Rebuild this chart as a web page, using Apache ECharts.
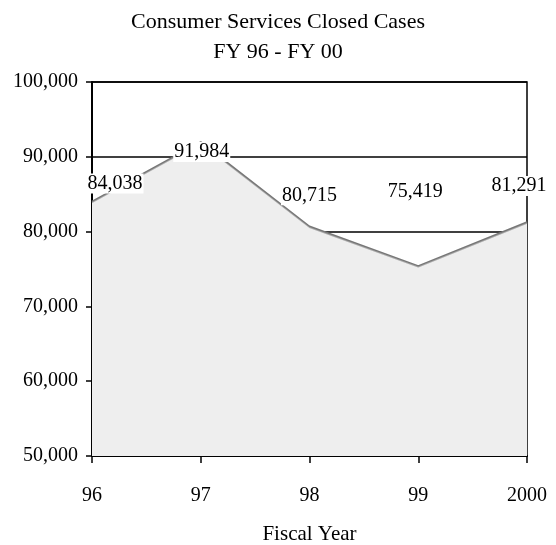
<!DOCTYPE html>
<html>
<head>
<meta charset="utf-8">
<script src="https://cdn.jsdelivr.net/npm/echarts@6/dist/echarts.min.js"></script>
<style>
  html, body { margin: 0; padding: 0; background: #fff; }
  #chart { width: 556px; height: 545px; }
</style>
</head>
<body>
<div id="chart"></div>
<script>
// ---- data ----
const fiscalYears = ['96', '97', '98', '99', '2000'];
const closedCases = [84038, 91984, 80715, 75419, 81291];
const titleLines = ['Consumer Services Closed Cases', 'FY 96 - FY 00'];
const xAxisTitle = 'Fiscal Year';
const yMin = 50000, yMax = 100000, yStep = 10000;

// ---- presentation ----
const FONT = "'Liberation Serif', 'Times New Roman', serif";
const labelShifts = [[23, -18], [1, 10], [0, -31], [-3, -74], [-8, -36]];

const chart = echarts.init(document.getElementById('chart'), null, { renderer: 'canvas' });
const fmt = v => Number(v).toLocaleString('en-US');

chart.setOption({
  backgroundColor: '#ffffff',
  animation: false,
  title: {
    text: titleLines.join('\n'),
    left: 'center',
    top: 2,
    textStyle: { fontFamily: FONT, fontSize: 22, fontWeight: 'normal', color: '#000', lineHeight: 30 }
  },
  grid: {
    left: 92, right: 29, top: 82, bottom: 89,
    outerBoundsMode: 'none',
    containLabel: false,
    show: true, borderColor: '#000', borderWidth: 1.5, backgroundColor: 'transparent'
  },
  xAxis: {
    type: 'category',
    data: fiscalYears,
    boundaryGap: false,
    name: xAxisTitle,
    nameLocation: 'middle',
    nameGap: 68,
    nameTextStyle: { fontFamily: FONT, fontSize: 21, color: '#000' },
    axisLine: { lineStyle: { color: '#000', width: 2 } },
    axisTick: { show: true, length: 7, inside: false, alignWithLabel: true, lineStyle: { color: '#000', width: 1.5 } },
    axisLabel: { fontFamily: FONT, fontSize: 20, color: '#000', margin: 30 },
    splitLine: { show: false }
  },
  yAxis: {
    type: 'value',
    min: yMin, max: yMax, interval: yStep,
    axisLine: { show: true, lineStyle: { color: '#000', width: 2 } },
    axisTick: { show: true, length: 6, lineStyle: { color: '#000', width: 1.5 } },
    axisLabel: { fontFamily: FONT, fontSize: 20, color: '#000', margin: 14, formatter: fmt },
    splitLine: { show: true, lineStyle: { color: '#000', width: 1.5 } }
  },
  series: [{
    type: 'line',
    data: closedCases.map((v, i) => ({
      value: v,
      label: { offset: labelShifts[i] }
    })),
    symbol: 'circle',
    symbolSize: 1,
    showSymbol: true,
    itemStyle: { color: 'rgba(0,0,0,0)', borderWidth: 0 },
    z: 3,
    lineStyle: { color: '#777', width: 1.5, shadowColor: '#aaa', shadowOffsetY: 1, shadowBlur: 0 },
    areaStyle: { color: '#eeeeee', opacity: 1, origin: 'start' },
    label: {
      show: true,
      position: 'inside',
      formatter: p => fmt(p.value),
      fontFamily: FONT,
      fontSize: 20,
      color: '#000',
      backgroundColor: '#fff',
      padding: [0, 1]
    }
  }]
});
</script>
</body>
</html>
